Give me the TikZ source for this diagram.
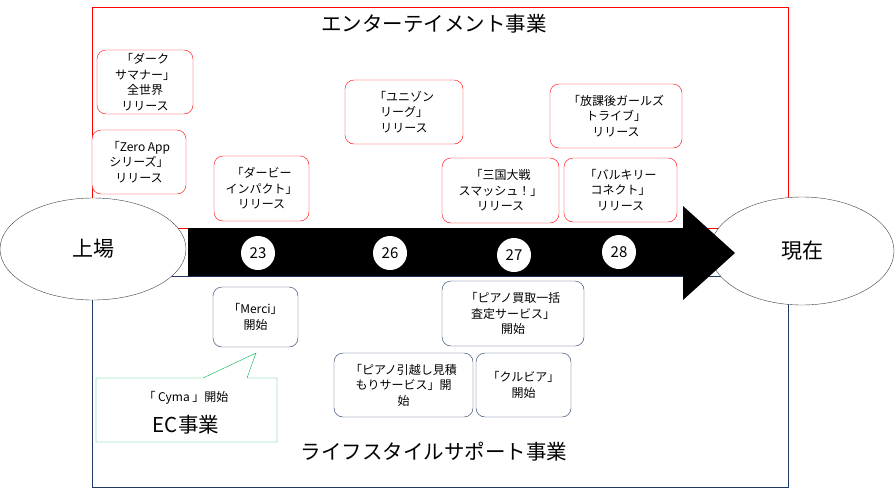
\documentclass[tikz,border=0pt]{standalone}
\usepackage{fontspec}
\setmainfont{Noto Sans CJK JP}
\usepackage{xcolor}
\definecolor{Signal Red}{HTML}{FF0000}
\definecolor{Deep Navy}{HTML}{1F3864}
\definecolor{Leaf Green}{HTML}{00B050}
\colorlet{cRed}{Signal Red}
\colorlet{cNavy}{Deep Navy}
\colorlet{cGreen}{Leaf Green}
\usepackage{tikz}
\usetikzlibrary{shapes.geometric, positioning}
\tikzset{
	line width = 1.1pt,
	font = \fontsize{12}{15.5}\selectfont,
	entbox/.style={
		draw=cRed,
		fill=white,
		rounded corners=9pt,
		align=center,
		inner sep=1pt
	},
	lifebox/.style={
		draw=cNavy,
		fill=white,
		rounded corners=9pt,
		align=center,
		inner sep=1pt
	},
	yearmark/.style={
		circle,
		fill=white,
		minimum size=34pt,
		inner sep=0pt,
		font=\fontsize{15}{15}\selectfont
	},
	endpoint/.style={
		ellipse,
		draw=black!75,
		fill=white,
		inner sep=0pt,
		font=\fontsize{21}{21}\selectfont
	},
	heading/.style={
		font=\fontsize{20.5}{21}\selectfont
	}
}

\begin{document}
\begin{tikzpicture}[x=1pt, y=-1pt]
		\useasboundingbox (0,0) rectangle (895,488);

		\draw[cRed] (92,7) rectangle (788,228);
		\draw[cNavy] (92,276) rectangle (788,487);

		\node[heading] (ent) at (434,24) {エンターテイメント事業};
		\node[heading] (life) at (434,452) {ライフスタイルサポート事業};

		\node[endpoint, minimum width=186pt, minimum height=102pt] (ipo) at (93,249) {上場};
		\node[endpoint, minimum width=184pt, minimum height=108pt] (now) at (802,251) {現在};

		\fill[black] (188,228) -- (683,228) -- (683,206) -- (735,253)
			-- (683,300) -- (683,276) -- (188,276) -- cycle;

		\node[yearmark] (y23) at (258,253) {23};
		\node[yearmark] (y26) at (390,253) {26};
		\node[yearmark] (y27) at (514,255) {27};
		\node[yearmark] (y28) at (619,252) {28};

		\node[entbox, minimum width=96pt, minimum height=64pt] (dark) at (145,82) {「ダーク\\サマナー」\\全世界\\リリース};
		\node[entbox, minimum width=94pt, minimum height=64pt] (zero) at (139,162) {「Zero App\\シリーズ」\\リリース};
		\node[entbox, minimum width=95pt, minimum height=65pt] (derby) at (261.5,188.5) {「ダービー\\インパクト」\\リリース};
		\node[entbox, minimum width=118pt, minimum height=64pt] (unison) at (404,112) {「ユニゾン\\リーグ」\\リリース};
		\node[entbox, minimum width=117pt, minimum height=65pt] (sangoku) at (500.5,190.5) {「三国大戦\\スマッシュ！」\\リリース};
		\node[entbox, minimum width=113pt, minimum height=64pt] (valkyrie) at (620.5,190) {「バルキリー\\コネクト」\\リリース};
		\node[entbox, minimum width=132pt, minimum height=64pt] (houkago) at (616,116) {「放課後ガールズ\\トライブ」\\リリース};

		\node[lifebox, minimum width=85pt, minimum height=60pt] (merci) at (255.5,317) {「Merci」\\開始};
		\node[lifebox, minimum width=139pt, minimum height=64pt] (hikkoshi) at (403.5,385) {「ピアノ引越し見積\\もりサービス」開\\始};
		\node[lifebox, minimum width=142pt, minimum height=65pt] (kaitori) at (513,313.5) {「ピアノ買取一括\\査定サービス」\\開始};
		\node[lifebox, minimum width=95pt, minimum height=64pt] (kurubia) at (523.5,385) {「クルビア」\\開始};

		\coordinate (tip) at (256,353);
		\draw[cGreen, fill=white] (96,378) -- (203,378) -- (tip) -- (247,378)
			-- (277,378) -- (277,442) -- (96,442) -- cycle;
		\node (cyma) at (186,398) {「 Cyma 」開始};
		\node[heading] (ec) at (186,425) {EC事業};
	\end{tikzpicture}
\end{document}
